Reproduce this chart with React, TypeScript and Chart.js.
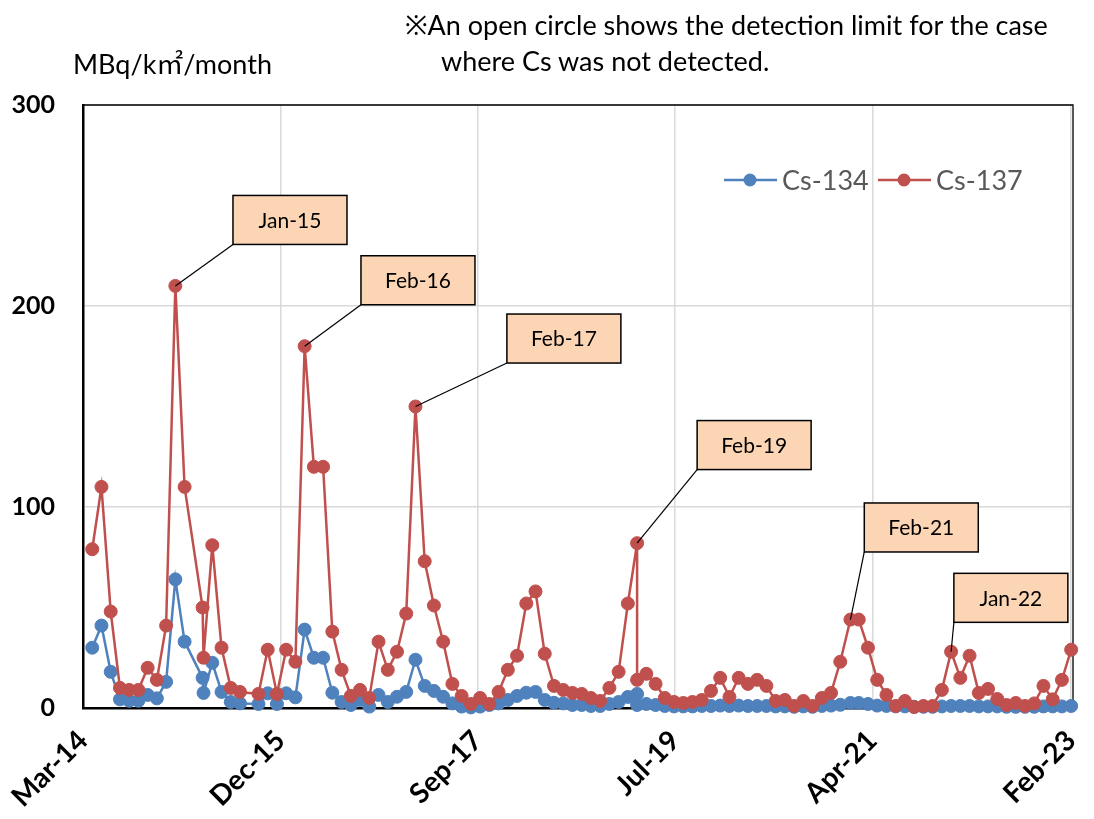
import React, { useEffect, useRef } from "react";
import { Chart, registerables } from "chart.js";

Chart.register(...registerables);

// Sample month, counted in months from Mar-2014
const months: number[] = [
  1, 2, 3, 4, 5, 6, 7, 8, 9, 10, 11, 12.95, 13.05, 14, 15, 16, 17,
  19, 20, 21, 22, 23, 24, 25, 26, 27, 28, 29, 30, 31, 32, 33, 34, 35, 36, 37, 38, 39, 40,
  41, 42, 43, 44, 45, 46, 47, 48, 49, 50, 51, 52, 53, 54, 55, 56, 57, 58, 59, 60, 60,
  61, 62, 63, 64, 65, 66, 67, 68, 69, 70, 71, 72, 73, 74, 75, 76, 77, 78, 79, 80, 81, 82, 83.1,
  84, 85, 86, 87, 88, 89, 90, 91, 92, 93, 94, 95, 96, 97, 98, 99, 100, 101, 102, 103, 104, 105, 106, 107,
];

// MBq/km2/month
const cs134: number[] = [
  30, 41, 18, 4.3, 3.6, 3.6, 6.5, 4.8, 13, 64, 33, 15, 7.5, 22.5, 8, 3, 2.3,
  2, 7.3, 2, 7.3, 5.3, 39, 25, 25, 7.6, 3, 1.5, 4, 0.7, 6.5, 3, 5.6, 8, 24, 11, 8.5, 5.6, 2.3,
  0.7, 0.3, 0.7, 1.5, 2.3, 4, 6, 7.6, 8, 4, 2.6, 2.3, 1.5, 1.5, 1, 1, 2, 3, 5.5, 7, 1.5,
  2, 1.5, 1, 0.8, 0.8, 0.8, 1, 1, 1.2, 1, 1.2, 1, 1, 1, 0.8, 0.8, 0.6, 0.8, 0.6, 1, 1.2, 1.6, 2.5,
  2.5, 2, 1.2, 1, 0.8, 0.8, 0.6, 0.6, 0.6, 0.8, 1, 1, 1, 0.8, 0.8, 0.8, 0.6, 0.6, 0.6, 0.6, 0.8, 0.8, 0.8, 1,
];

const cs137: number[] = [
  79, 110, 48, 10, 9, 9, 20, 14, 41, 210, 110, 50, 25, 81, 30, 10, 8,
  7, 29, 7, 29, 23, 180, 120, 120, 38, 19, 6, 9, 5, 33, 19, 28, 47, 150, 73, 51, 33, 12,
  6, 2, 5, 2, 8, 19, 26, 52, 58, 27, 11, 9, 7.5, 7, 5, 3.5, 10, 18, 52, 82, 14,
  17, 12, 5, 3, 2.5, 3, 4, 8.5, 15, 5.5, 15, 12, 14, 11, 3.5, 4, 1, 3.5, 1, 5, 7.5, 23, 44,
  44, 30, 14, 6.5, 1, 3.5, 0.5, 1, 1, 9, 28, 15, 26, 7.5, 9.5, 4.5, 1.5, 2.5, 1, 2.3, 11, 4.3, 14, 29,
];

const tickMonths: number[] = [0, 21.37, 42.74, 64.11, 85.48, 107];
const tickLabels: string[] = ["Mar-14", "Dec-15", "Sep-17", "Jul-19", "Apr-21", "Feb-23"];

const calloutLabels: string[] = ["Jan-15", "Feb-16", "Feb-17", "Feb-19", "Feb-21", "Jan-22"];
const calloutTargets: number[] = [10, 24, 36, 60, 83.1, 94];
const calloutBoxMonth: number[] = [16.24, 30.1, 45.9, 66.5, 84.6, 94.3];
const calloutBoxValue: number[] = [255, 225, 196, 143, 102, 67];

const BLUE = "#4F81BD";
const RED = "#C0504D";
const FONT = "Lato, 'Noto Sans', 'Noto Sans CJK JP', sans-serif";

const framePlugin = {
  id: "frame",
  beforeDatasetsDraw(chart: any) {
    const { ctx, chartArea } = chart;
    ctx.save();
    ctx.strokeStyle = "#000";
    ctx.lineWidth = 1.3;
    ctx.beginPath();
    ctx.moveTo(chartArea.left, chartArea.top);
    ctx.lineTo(chartArea.right, chartArea.top);
    ctx.lineTo(chartArea.right, chartArea.bottom);
    ctx.stroke();
    ctx.restore();
  },
};

const calloutPlugin = {
  id: "callouts",
  afterDatasetsDraw(chart: any) {
    const { ctx } = chart;
    const xs = chart.scales.x;
    const ys = chart.scales.y;
    ctx.save();
    calloutLabels.forEach((label, k) => {
      const idx = months.indexOf(calloutTargets[k]);
      const px = xs.getPixelForValue(months[idx]);
      const py = ys.getPixelForValue(cs137[idx]);
      const bx = xs.getPixelForValue(calloutBoxMonth[k]);
      const by = ys.getPixelForValue(calloutBoxValue[k]);
      const w = 114;
      const h = 49;
      ctx.strokeStyle = "#000";
      ctx.lineWidth = 1.2;
      ctx.beginPath();
      ctx.moveTo(bx, by + h);
      ctx.lineTo(px, py);
      ctx.stroke();
      ctx.fillStyle = "#FCD5B5";
      ctx.fillRect(bx, by, w, h);
      ctx.lineWidth = 1.5;
      ctx.strokeRect(bx, by, w, h);
      ctx.fillStyle = "#000";
      ctx.font = `21px ${FONT}`;
      ctx.textAlign = "center";
      ctx.textBaseline = "middle";
      ctx.fillText(label, bx + w / 2, by + h / 2 + 1);
    });
    ctx.restore();
  },
};

const legendPlugin = {
  id: "insideLegend",
  afterDraw(chart: any) {
    const { ctx } = chart;
    const items = [
      { ds: chart.data.datasets[1], x0: 716 },
      { ds: chart.data.datasets[0], x0: 870 },
    ];
    const y = 172;
    ctx.save();
    items.forEach(({ ds, x0 }) => {
      ctx.strokeStyle = ds.borderColor;
      ctx.lineWidth = 2.5;
      ctx.beginPath();
      ctx.moveTo(x0, y);
      ctx.lineTo(x0 + 53, y);
      ctx.stroke();
      ctx.fillStyle = ds.borderColor;
      ctx.beginPath();
      ctx.arc(x0 + 26, y, 6.5, 0, Math.PI * 2);
      ctx.fill();
      ctx.fillStyle = "#595959";
      ctx.font = `27px ${FONT}`;
      ctx.textAlign = "left";
      ctx.textBaseline = "middle";
      ctx.fillText(ds.label, x0 + 58, y + 1);
    });
    ctx.restore();
  },
};

function ChartView() {
  const ref = useRef<HTMLCanvasElement | null>(null);
  useEffect(() => {
    if (!ref.current) return;
    const toPoints = (vals: number[]) => vals.map((v, i) => ({ x: months[i], y: v }));
    const chart = new Chart(ref.current, {
      type: "line",
      data: {
        datasets: [
          {
            label: "Cs-137",
            data: toPoints(cs137),
            borderColor: RED,
            backgroundColor: RED,
            pointBackgroundColor: RED,
            pointBorderColor: RED,
            borderWidth: 2.5,
            pointRadius: 6.5,
            pointBorderWidth: 1,
            tension: 0,
            order: 0,
            clip: false as any,
          },
          {
            label: "Cs-134",
            data: toPoints(cs134),
            borderColor: BLUE,
            backgroundColor: BLUE,
            pointBackgroundColor: BLUE,
            pointBorderColor: BLUE,
            borderWidth: 2.5,
            pointRadius: 6.5,
            pointBorderWidth: 1,
            tension: 0,
            order: 1,
            clip: false as any,
          },
        ],
      },
      options: {
        responsive: false,
        animation: false,
        devicePixelRatio: 1,
        layout: { padding: { top: 97, right: 13, left: 0, bottom: 0 } },
        plugins: { legend: { display: false }, tooltip: { enabled: false } },
        scales: {
          x: {
            type: "linear",
            min: 0,
            max: 107.2,
            afterBuildTicks: (scale: any) => {
              scale.ticks = tickMonths.map((v) => ({ value: v }));
            },
            afterFit: (scale: any) => {
              scale.height = 103;
              scale.paddingLeft = 0;
              scale.paddingRight = 0;
            },
            grid: { color: "#D9D9D9", lineWidth: 1.5, drawTicks: false },
            border: { display: true, color: "#000", width: 2.5 },
            ticks: {
              autoSkip: false,
              minRotation: 45,
              maxRotation: 45,
              padding: 16,
              color: "#000",
              font: { family: FONT, size: 28, weight: "bold" },
              callback: (_v: any, i: number) => tickLabels[i],
            },
          },
          y: {
            min: 0,
            max: 300,
            afterFit: (scale: any) => {
              scale.width = 75;
              scale.paddingTop = 0;
              scale.paddingBottom = 0;
            },
            grid: { color: "#D9D9D9", lineWidth: 1.5, drawTicks: false },
            border: { display: true, color: "#000", width: 2.5 },
            ticks: {
              stepSize: 100,
              padding: 28,
              color: "#000",
              font: { family: FONT, size: 25, weight: "bold" },
            },
          },
        },
      },
      plugins: [framePlugin, calloutPlugin, legendPlugin],
    });
    return () => chart.destroy();
  }, []);
  return (
    <canvas
      ref={ref}
      width={1078}
      height={803}
      style={{ position: "absolute", left: 0, top: 0, width: 1078, height: 803 }}
    />
  );
}

export default function App() {
  const textStyle: React.CSSProperties = {
    position: "absolute",
    fontFamily: FONT,
    fontSize: 27,
    lineHeight: "32px",
    color: "#000",
    whiteSpace: "nowrap",
  };
  return (
    <div style={{ position: "relative", width: 1078, height: 803 }}>
      <ChartView />
      <div style={{ ...textStyle, left: 65, top: 40 }}>MBq/k㎡/month</div>
      <div style={{ ...textStyle, left: 397, top: 1 }}>※An open circle shows the detection limit for the case</div>
      <div style={{ ...textStyle, left: 433, top: 37 }}>where Cs was not detected.</div>
    </div>
  );
}
